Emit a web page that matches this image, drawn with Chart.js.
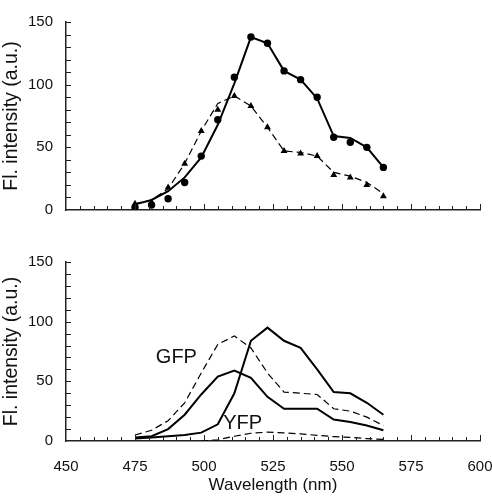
<!DOCTYPE html>
<html>
<head>
<meta charset="utf-8">
<script src="https://cdn.jsdelivr.net/npm/chart.js@4.4.1/dist/chart.umd.min.js"></script>
<style>
  html, body { margin: 0; padding: 0; background: #fff; overflow: hidden; }
  body { width: 492px; height: 496px; position: relative; }
  .panel { position: absolute; left: 0; width: 492px; }
  .panel canvas { display: block; }
  #topPanel { top: 0; height: 232px; }
  #bottomPanel { top: 240px; height: 256px; }
</style>
</head>
<body>
<div class="panel" id="topPanel"><canvas id="topChart"></canvas></div>
<div class="panel" id="bottomPanel"><canvas id="bottomChart"></canvas></div>
<script>
const wavelengths = [475, 481, 487, 493, 499, 505, 511, 517, 523, 529, 535, 541, 547, 553, 559, 565];

// top panel: measured points + fitted lines
const circlePoints = [2, 4, 9, 22, 43, 72, 106, 138, 133, 111, 104, 90, 58, 54, 50, 34];
const circleFit = [4.5, 8, 15, 26, 42, 68, 101, 138, 133, 111, 104, 89, 59, 57.5, 50, 34];
const trianglePoints = [5, 6, 18, 37, 63, 80, 91, 83, 66, 47, 45, 43, 28, 26, 20, 11];
const triangleFit = [5, 8, 17, 37, 63, 85, 91, 83, 66, 47, 46, 43, 30, 27, 22, 13];

// bottom panel: spectra
const gfpSolid = [3, 4, 10, 22, 39, 54, 59, 53, 37, 27, 27, 27, 18, 16, 13, 9];
const gfpDashed = [5, 9, 17, 32, 57, 81, 88, 78, 57, 41, 40, 39, 27, 25, 20, 13];
const yfpSolid = [2, 3, 4, 5, 7, 14, 40, 84, 95, 84, 78, 60, 41, 40, 32, 22];
const yfpDashed = [null, null, null, null, 0, 1, 4, 6.5, 7.4, 6.8, 6, 4.7, 3.7, 3, 2, 1.3];

const xTicks = [450, 475, 500, 525, 550, 575, 600];
const yTicks = [0, 50, 100, 150];
const curveLabels = [
  { text: "GFP", x: 490, y: 70 },
  { text: "YFP", x: 514, y: 15 }
];

const FONT = "'Liberation Sans', Arial, sans-serif";
const AXIS_COLOR = "#222";

function pts(values) {
  return wavelengths.map((w, i) => ({ x: w, y: values[i] }));
}

// ticks drawn inward from the axis lines, placed through the chart scales
const inwardTicks = {
  id: "inwardTicks",
  afterDraw(chart) {
    const { ctx, chartArea, scales } = chart;
    ctx.save();
    ctx.strokeStyle = AXIS_COLOR;
    ctx.lineWidth = 1;
    for (let v = 455; v <= 600; v += 5) {
      const px = Math.round(scales.x.getPixelForValue(v)) + 0.5;
      const len = v % 25 === 0 ? 6 : 4;
      ctx.beginPath();
      ctx.moveTo(px, chartArea.bottom);
      ctx.lineTo(px, chartArea.bottom - len);
      ctx.stroke();
    }
    for (let v = 10; v <= 150; v += 10) {
      const py = Math.round(scales.y.getPixelForValue(v)) + 0.5;
      ctx.beginPath();
      ctx.moveTo(chartArea.left, py);
      ctx.lineTo(chartArea.left + 5, py);
      ctx.stroke();
    }
    ctx.restore();
  }
};

const textLabels = {
  id: "textLabels",
  afterDatasetsDraw(chart, args, opts) {
    if (!opts.items) return;
    const { ctx, scales } = chart;
    ctx.save();
    ctx.fillStyle = "#111";
    ctx.font = "20px " + FONT;
    ctx.textAlign = "center";
    ctx.textBaseline = "middle";
    opts.items.forEach(l => {
      ctx.fillText(l.text, scales.x.getPixelForValue(l.x), scales.y.getPixelForValue(l.y));
    });
    ctx.restore();
  }
};

function makeScales(showX, xHeight) {
  return {
    x: {
      type: "linear",
      min: 450,
      max: 600,
      grid: { display: false, drawTicks: false },
      border: { display: true, color: AXIS_COLOR, width: 1.5 },
      afterBuildTicks: s => { s.ticks = xTicks.map(v => ({ value: v })); },
      ticks: { display: showX, padding: 17, color: "#111", font: { family: FONT, size: 15 } },
      title: {
        display: showX,
        text: "Wavelength (nm)",
        color: "#111",
        font: { family: FONT, size: 17 },
        padding: { top: 4, bottom: 0 }
      },
      afterFit: s => {
        s.height = xHeight;
        s.paddingLeft = 0;
        s.paddingRight = 0;
      }
    },
    y: {
      min: 0,
      max: 150,
      grid: { display: false, drawTicks: false },
      border: { display: true, color: AXIS_COLOR, width: 1.5 },
      afterBuildTicks: s => { s.ticks = yTicks.map(v => ({ value: v })); },
      ticks: { padding: 13, color: "#111", font: { family: FONT, size: 15 } },
      title: {
        display: true,
        text: "Fl. intensity (a.u.)",
        color: "#111",
        font: { family: FONT, size: 19.5 },
        padding: { top: 0, bottom: 0 }
      },
      afterFit: s => { s.width = 66; }
    }
  };
}

function lineSet(values, dashed, width) {
  return {
    data: pts(values),
    borderColor: "#000",
    borderWidth: width,
    borderDash: dashed ? [7, 4] : [],
    pointRadius: 0,
    tension: 0,
    fill: false,
    spanGaps: false
  };
}

function markerSet(values, style, radius) {
  return {
    data: pts(values),
    showLine: false,
    pointStyle: style,
    pointRadius: radius,
    backgroundColor: "#000",
    borderColor: "#000",
    borderWidth: 0
  };
}

new Chart(document.getElementById("topChart"), {
  type: "line",
  data: {
    datasets: [
      lineSet(circleFit, false, 2),
      lineSet(triangleFit, true, 1.2),
      markerSet(circlePoints, "circle", 3.7),
      markerSet(trianglePoints, "triangle", 4)
    ]
  },
  options: {
    responsive: true,
    maintainAspectRatio: false,
    animation: false,
    layout: { padding: { top: 7, right: 12, left: 0, bottom: 0 } },
    plugins: { legend: { display: false }, tooltip: { enabled: false } },
    scales: makeScales(false, 10)
  },
  plugins: [inwardTicks]
});

new Chart(document.getElementById("bottomChart"), {
  type: "line",
  data: {
    datasets: [
      lineSet(gfpSolid, false, 2),
      lineSet(gfpDashed, true, 1.2),
      lineSet(yfpSolid, false, 2),
      lineSet(yfpDashed, true, 1.2)
    ]
  },
  options: {
    responsive: true,
    maintainAspectRatio: false,
    animation: false,
    layout: { padding: { top: 11, right: 12, left: 0, bottom: 0 } },
    plugins: {
      legend: { display: false },
      tooltip: { enabled: false },
      textLabels: { items: curveLabels }
    },
    scales: makeScales(true, 55)
  },
  plugins: [inwardTicks, textLabels]
});
</script>
</body>
</html>
